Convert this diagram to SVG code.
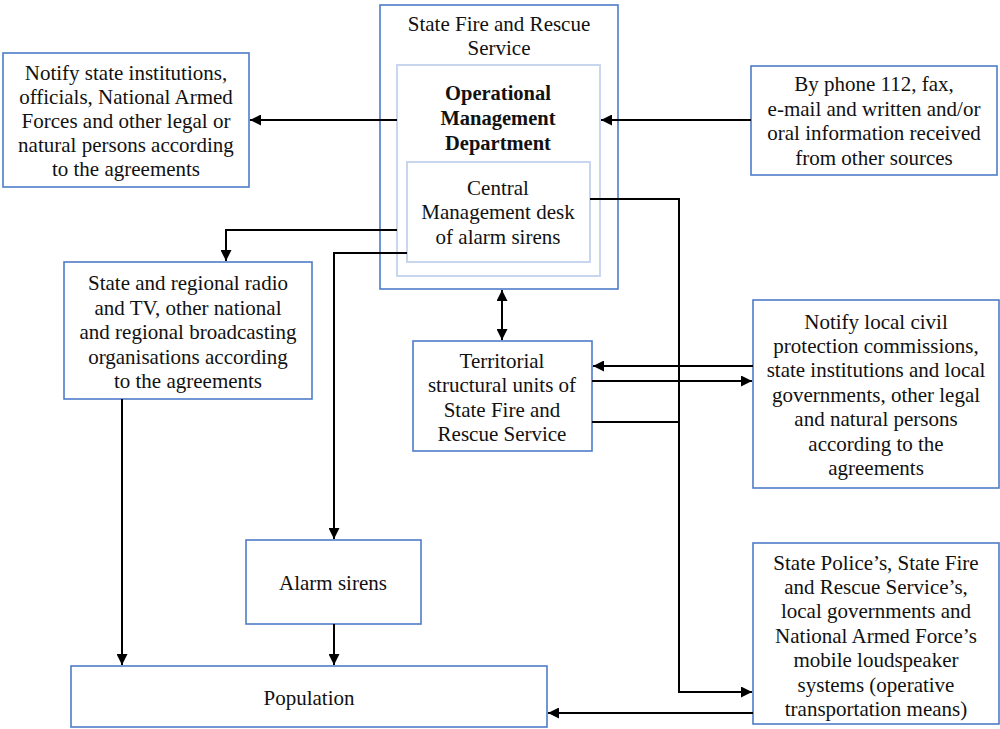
<svg xmlns="http://www.w3.org/2000/svg" width="1000" height="729" viewBox="0 0 1000 729">
<style>
.box{fill:#fff;stroke:#4f7cc9;stroke-width:1.6}
.inner{fill:#fff;stroke:#c9d6ef;stroke-width:2}
.t{font-family:"Liberation Serif","Times New Roman",serif;font-size:21px;fill:#111;text-anchor:middle}
.b{font-weight:bold;font-size:20.5px}
.c{fill:none;stroke:#000;stroke-width:2}
</style>
<defs>
<marker id="ah" viewBox="0 0 10 10" refX="10" refY="5" markerWidth="5.5" markerHeight="5.5" orient="auto-start-reverse" markerUnits="strokeWidth">
<path d="M0,0 L10,5 L0,10 z" fill="#000"/>
</marker>
</defs>
<rect width="1000" height="729" fill="#fff"/>
<g id="sfrs">
<rect class="box" x="380" y="5" width="238" height="284"/>
<text class="t"><tspan x="499" y="31">State Fire and Rescue</tspan><tspan x="499" y="55">Service</tspan></text>
</g>
<g id="omd">
<rect class="inner" x="397" y="65" width="203" height="211"/>
<text class="t b"><tspan x="498" y="100">Operational</tspan><tspan x="498" y="125">Management</tspan><tspan x="498" y="150">Department</tspan></text>
</g>
<g id="cmd">
<rect class="inner" x="407" y="162" width="183" height="100"/>
<text class="t"><tspan x="498" y="195">Central</tspan><tspan x="498" y="219">Management desk</tspan><tspan x="498" y="244">of alarm sirens</tspan></text>
</g>
<g id="notify-state">
<rect class="box" x="3" y="53" width="246" height="134"/>
<text class="t"><tspan x="126" y="80">Notify state institutions,</tspan><tspan x="126" y="104">officials, National Armed</tspan><tspan x="126" y="128">Forces and other legal or</tspan><tspan x="126" y="152">natural persons according</tspan><tspan x="126" y="176">to the agreements</tspan></text>
</g>
<g id="phone">
<rect class="box" x="751" y="66" width="246" height="109"/>
<text class="t"><tspan x="874" y="91">By phone 112, fax,</tspan><tspan x="874" y="116">e-mail and written and/or</tspan><tspan x="874" y="140">oral information received</tspan><tspan x="874" y="165">from other sources</tspan></text>
</g>
<g id="radio">
<rect class="box" x="64" y="262" width="248" height="137"/>
<text class="t"><tspan x="188" y="290">State and regional radio</tspan><tspan x="188" y="315">and TV, other national</tspan><tspan x="188" y="339">and regional broadcasting</tspan><tspan x="188" y="364">organisations according</tspan><tspan x="188" y="388">to the agreements</tspan></text>
</g>
<g id="territorial">
<rect class="box" x="413" y="341" width="179" height="110"/>
<text class="t"><tspan x="502" y="368">Territorial</tspan><tspan x="502" y="392">structural units of</tspan><tspan x="502" y="417">State Fire and</tspan><tspan x="502" y="441">Rescue Service</tspan></text>
</g>
<g id="notify-local">
<rect class="box" x="753" y="300" width="246" height="188"/>
<text class="t"><tspan x="876" y="329">Notify local civil</tspan><tspan x="876" y="353">protection commissions,</tspan><tspan x="876" y="377">state institutions and local</tspan><tspan x="876" y="402">governments, other legal</tspan><tspan x="876" y="426">and natural persons</tspan><tspan x="876" y="451">according to the</tspan><tspan x="876" y="475">agreements</tspan></text>
</g>
<g id="sirens">
<rect class="box" x="246" y="540" width="175" height="84"/>
<text class="t" x="333" y="590">Alarm sirens</text>
</g>
<g id="mobile">
<rect class="box" x="753" y="543" width="246" height="181"/>
<text class="t"><tspan x="876" y="570">State Police’s, State Fire</tspan><tspan x="876" y="594">and Rescue Service’s,</tspan><tspan x="876" y="618">local governments and</tspan><tspan x="876" y="643">National Armed Force’s</tspan><tspan x="876" y="667">mobile loudspeaker</tspan><tspan x="876" y="692">systems (operative</tspan><tspan x="876" y="716">transportation means)</tspan></text>
</g>
<g id="population">
<rect class="box" x="71" y="666" width="476" height="61"/>
<text class="t" x="309" y="705">Population</text>
</g>
<g id="connectors">
<path class="c" d="M397,120 H250" marker-end="url(#ah)"/>
<path class="c" d="M751,120 H601" marker-end="url(#ah)"/>
<path class="c" d="M397,230 H226 V261" marker-end="url(#ah)"/>
<path class="c" d="M407,253 H334 V539" marker-end="url(#ah)"/>
<path class="c" d="M590,199 H679 V692 H752" marker-end="url(#ah)"/>
<path class="c" d="M502,290 V340" marker-start="url(#ah)" marker-end="url(#ah)"/>
<path class="c" d="M753,366 H593" marker-end="url(#ah)"/>
<path class="c" d="M592,381 H752" marker-end="url(#ah)"/>
<path class="c" d="M592,422 H679"/>
<path class="c" d="M122,399 V665" marker-end="url(#ah)"/>
<path class="c" d="M334,624 V665" marker-end="url(#ah)"/>
<path class="c" d="M753,713 H548" marker-end="url(#ah)"/>
</g>
</svg>
